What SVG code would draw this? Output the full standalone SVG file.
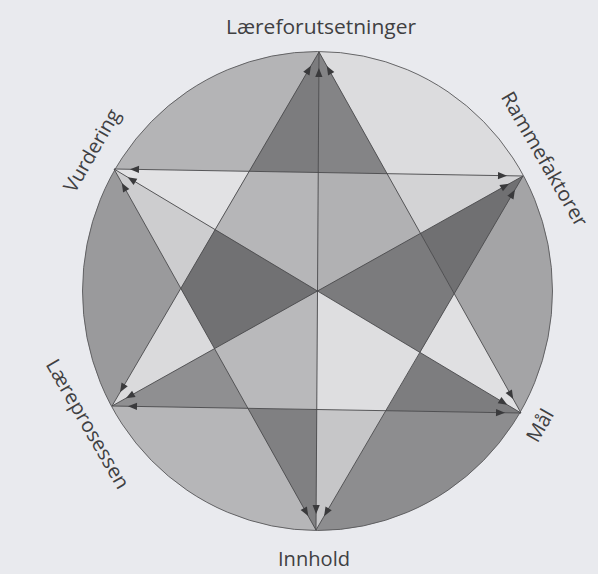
<svg xmlns="http://www.w3.org/2000/svg" width="598" height="574" viewBox="0 0 598 574">
<style>
.lbl{font-family:"Open Sans","Liberation Sans",sans-serif;font-size:20px;fill:#404042;text-anchor:middle}
.ln{stroke:#4a4a4c;stroke-width:0.9;fill:none;marker-start:url(#ah);marker-end:url(#ah)}
</style>
<defs>
<clipPath id="disk"><ellipse cx="317.5" cy="291" rx="235" ry="239.5"/></clipPath>
<marker id="ah" viewBox="-30 -5 35 10" markerUnits="userSpaceOnUse" markerWidth="35" markerHeight="10" refX="0" refY="0" orient="auto-start-reverse" overflow="visible">
<path d="M-16,0 L-25,-3.6 L-25,3.6 Z" fill="#3a3a3c"/>
</marker>
</defs>
<rect width="598" height="574" fill="#e9eaee"/>
<g id="shading" clip-path="url(#disk)">
<ellipse cx="317.5" cy="291" rx="235" ry="239.5" fill="#a8a8aa"/>
<polygon points="319,52 249.2,171.3 114,169 12.25,108 319.75,-67.5" fill="#b4b4b6"/>
<polygon points="319,52 387.1,173.7 523,176 625.75,118.5 319.75,-67.5" fill="#dcdcde"/>
<polygon points="523,176 454.2,293.6 521,413 622.75,474 625.75,118.5" fill="#a4a4a6"/>
<polygon points="521,413 385.8,410.7 316,530 315.25,649.5 622.75,474" fill="#8d8d8f"/>
<polygon points="316,530 247.9,408.3 112,406 9.25,463.5 315.25,649.5" fill="#b6b6b8"/>
<polygon points="112,406 180.8,288.4 114,169 12.25,108 9.25,463.5" fill="#9a9a9c"/>
<polygon points="319,52 249.2,171.3 318.2,172.5" fill="#7c7c7e"/>
<polygon points="319,52 318.2,172.5 387.1,173.7" fill="#848486"/>
<polygon points="523,176 387.1,173.7 420.5,233.4" fill="#d3d3d5"/>
<polygon points="523,176 420.5,233.4 454.2,293.6" fill="#707072"/>
<polygon points="521,413 454.2,293.6 419.9,352.4" fill="#e0e0e2"/>
<polygon points="521,413 419.9,352.4 385.8,410.7" fill="#7d7d7f"/>
<polygon points="316,530 385.8,410.7 316.8,409.5" fill="#c6c6c8"/>
<polygon points="316,530 316.8,409.5 247.9,408.3" fill="#808082"/>
<polygon points="112,406 247.9,408.3 214.5,348.6" fill="#8f8f91"/>
<polygon points="112,406 214.5,348.6 180.8,288.4" fill="#dadadc"/>
<polygon points="114,169 180.8,288.4 215.1,229.6" fill="#cdcdcf"/>
<polygon points="114,169 215.1,229.6 249.2,171.3" fill="#e2e2e4"/>
<polygon points="317.5,291 318.2,172.5 249.2,171.3 215.1,229.6" fill="#b6b6b8"/>
<polygon points="317.5,291 318.2,172.5 387.1,173.7 420.5,233.4" fill="#b1b1b3"/>
<polygon points="317.5,291 420.5,233.4 454.2,293.6 419.9,352.4" fill="#7b7b7d"/>
<polygon points="317.5,291 419.9,352.4 385.8,410.7 316.8,409.5" fill="#dedee0"/>
<polygon points="317.5,291 316.8,409.5 247.9,408.3 214.5,348.6" fill="#b9b9bb"/>
<polygon points="317.5,291 214.5,348.6 180.8,288.4 215.1,229.6" fill="#717173"/>
</g>
<ellipse id="rim" cx="317.5" cy="291" rx="235" ry="239.5" fill="none" stroke="#59595b" stroke-width="0.9"/>
<g id="connectors">
<line class="ln" x1="319" y1="52" x2="316" y2="530"/>
<line class="ln" x1="114" y1="169" x2="521" y2="413"/>
<line class="ln" x1="523" y1="176" x2="112" y2="406"/>
<line class="ln" x1="319" y1="52" x2="112" y2="406"/>
<line class="ln" x1="319" y1="52" x2="521" y2="413"/>
<line class="ln" x1="112" y1="406" x2="521" y2="413"/>
<line class="ln" x1="316" y1="530" x2="114" y2="169"/>
<line class="ln" x1="316" y1="530" x2="523" y2="176"/>
<line class="ln" x1="114" y1="169" x2="523" y2="176"/>
</g>
<g id="node-laereforutsetninger"><text class="lbl" x="321" y="34" textLength="190" lengthAdjust="spacingAndGlyphs">Læreforutsetninger</text></g>
<g id="node-rammefaktorer"><text class="lbl" transform="translate(544.5,159) rotate(60)" x="0" y="7" textLength="152" lengthAdjust="spacingAndGlyphs">Rammefaktorer</text></g>
<g id="node-maal"><text class="lbl" transform="translate(540,425.5) rotate(-60)" x="0" y="7">Mål</text></g>
<g id="node-innhold"><text class="lbl" x="314" y="566" textLength="72" lengthAdjust="spacingAndGlyphs">Innhold</text></g>
<g id="node-laereprosessen"><text class="lbl" transform="translate(86,425) rotate(60)" x="0" y="5" textLength="146" lengthAdjust="spacingAndGlyphs">Læreprosessen</text></g>
<g id="node-vurdering"><text class="lbl" transform="translate(93.5,151.5) rotate(-60)" x="0" y="5">Vurdering</text></g>
</svg>
